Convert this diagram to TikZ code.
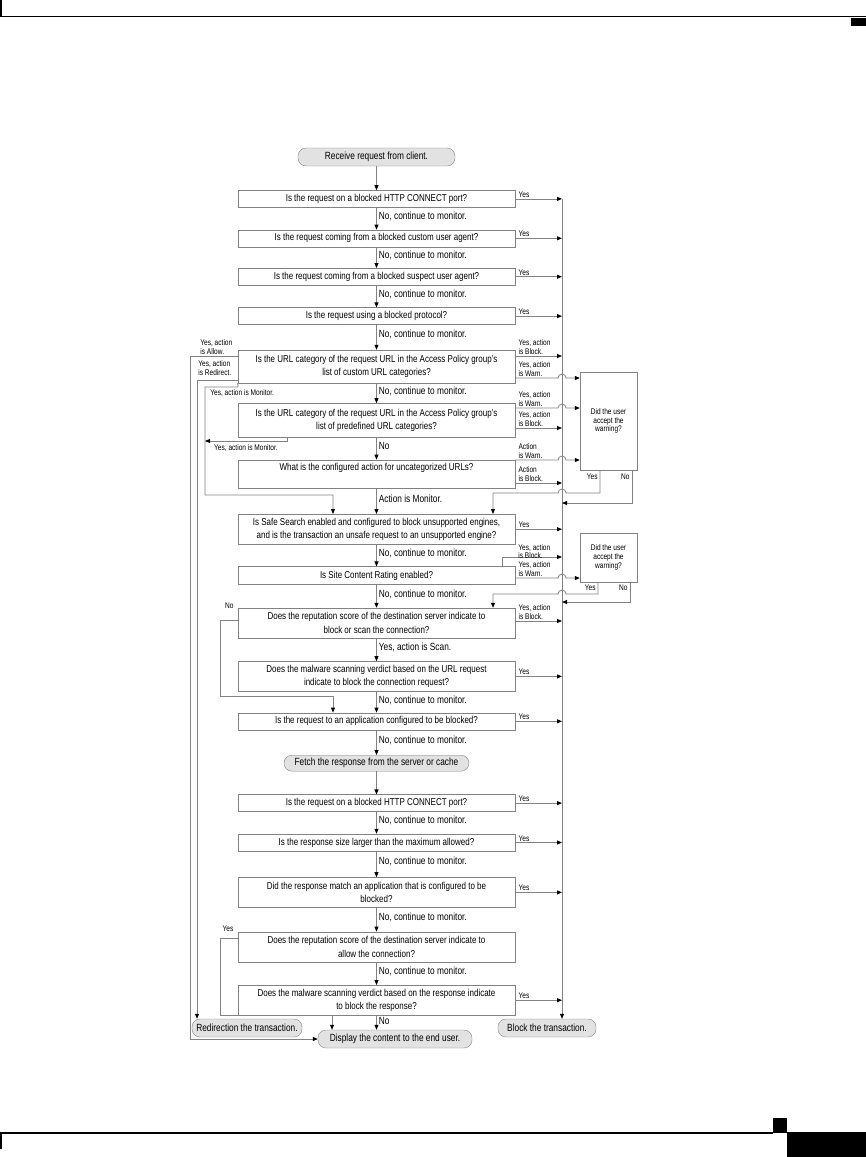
\documentclass[tikz,border=0pt]{standalone}
\usepackage{fontspec}
\setmainfont{Liberation Sans}[FakeStretch=0.8]
\usetikzlibrary{positioning,arrows.meta}
\definecolor{flgrey}{RGB}{130,130,130}
\definecolor{flfill}{RGB}{226,226,226}
\newcommand{\qfont}{\fontsize{10}{13.5}\selectfont}
\newcommand{\tfont}{\fontsize{10.4}{11}\selectfont}
\newcommand{\lfont}{\fontsize{10.4}{11}\selectfont}
\newcommand{\sfont}{\fontsize{8.2}{8.8}\selectfont}
\tikzset{
  qbox/.style={draw=flgrey, fill=white, minimum width=277pt, minimum height=17pt,
               inner sep=0pt, align=center, font=\qfont},
  qtwo/.style={qbox, minimum height=30pt},
  term/.style={draw=flgrey, fill=flfill, rounded corners=8pt, minimum height=18pt,
               inner sep=0pt, font=\tfont},
  warnbox/.style={draw=flgrey, fill=white, align=center, inner sep=0pt, font=\sfont},
  link/.style={draw=flgrey, line width=0.8pt, -{Triangle[length=5pt,width=4pt,color=black]}},
  nolbl/.style={right=2pt, font=\lfont, inner sep=0pt, pos=0.4},
  yes/.style={anchor=south west, font=\sfont, inner sep=0pt, xshift=3pt, yshift=1pt},
  side/.style={yes, align=left},
}
\begin{document}
\begin{tikzpicture}[x=1pt, y=-1pt]
\useasboundingbox (0,0) rectangle (866,1157);
% page rules
\draw[line width=1.2pt] (0,16.5) -- (866,16.5);
\draw[line width=1.2pt] (1,0) -- (1,16.5);
\fill (851,18) rectangle (866,26);
\draw[line width=1.2pt] (0,1133) -- (773,1133);
\draw[line width=1.2pt] (1,1133) -- (1,1149);
\fill (773,1118) rectangle (787,1133);
\fill (787,1132) rectangle (866,1157);

% request checks
\node[term, minimum width=157pt] (start) at (376.5,157) {Receive request from client.};
\node[qbox, below=24pt of start] (b1) {Is the request on a blocked HTTP CONNECT port?};
\node[qbox, below=22pt of b1] (b2) {Is the request coming from a blocked custom user agent?};
\node[qbox, below=21pt of b2] (b3) {Is the request coming from a blocked suspect user agent?};
\node[qbox, below=22pt of b3] (b4) {Is the request using a blocked protocol?};
\node[qtwo, minimum height=33pt, below=25pt of b4] (b5) {Is the URL category of the request URL in the Access Policy group's\\list of custom URL categories?};
\node[qtwo, minimum height=34pt, below=20pt of b5] (b6) {Is the URL category of the request URL in the Access Policy group's\\list of predefined URL categories?};
\node[qbox, minimum height=28pt, below=22pt of b6] (b7) {What is the configured action for uncategorized URLs?\\\mbox{}};
\node[qtwo, below=26pt of b7] (b8) {Is Safe Search enabled and configured to block unsupported engines,\\and is the transaction an unsafe request to an unsupported engine?};
\node[qbox, minimum height=18pt, below=22pt of b8] (b9) {Is Site Content Rating enabled?};
\node[qtwo, below=23pt of b9] (b10) {Does the reputation score of the destination server indicate to\\block or scan the connection?};
\node[qtwo, below=23pt of b10] (b11) {Does the malware scanning verdict based on the URL request\\indicate to block the connection request?};
\node[qbox, below=21pt of b11] (b12) {Is the request to an application configured to be blocked?};
% response checks
\node[term, minimum width=185pt, minimum height=16pt, below=25pt of b12] (fetch) {Fetch the response from the server or cache};
\node[qbox, below=23pt of fetch] (b13) {Is the request on a blocked HTTP CONNECT port?};
\node[qbox, below=22pt of b13] (b14) {Is the response size larger than the maximum allowed?};
\node[qtwo, below=26pt of b14] (b15) {Did the response match an application that is configured to be\\blocked?};
\node[qtwo, below=24pt of b15] (b16) {Does the reputation score of the destination server indicate to\\allow the connection?};
\node[qtwo, below=23pt of b16] (b17) {Does the malware scanning verdict based on the response indicate\\to block the response?};
% outcomes
\node[term, minimum width=110pt] (redir) at (247,1028) {Redirection the transaction.};
\node[term, minimum width=154pt] (disp) at (395,1039) {Display the content to the end user.};
\node[term, minimum width=98pt] (blk) at (547,1028) {Block the transaction.};
% warning prompts
\node[warnbox, minimum width=57pt, minimum height=98pt] (w1) at (608.5,421) {Did the user\\accept the\\warning?};
\node[warnbox, minimum width=57pt, minimum height=49pt] (w2) at (608.5,557.5) {Did the user\\accept the\\warning?};

% main column
\draw[link] (start) -- (b1);
\draw[link] (b1) -- node[nolbl]{No, continue to monitor.} (b2);
\draw[link] (b2) -- node[nolbl]{No, continue to monitor.} (b3);
\draw[link] (b3) -- node[nolbl]{No, continue to monitor.} (b4);
\draw[link] (b4) -- node[nolbl]{No, continue to monitor.} (b5);
\draw[link] (b5) -- node[nolbl]{No, continue to monitor.} (b6);
\draw[link] (b6) -- node[nolbl]{No} (b7);
\draw[link] (b7) -- node[nolbl]{Action is Monitor.} (b8);
\draw[link] (b8) -- node[nolbl]{No, continue to monitor.} (b9);
\draw[link] (b9) -- node[nolbl]{No, continue to monitor.} (b10);
\draw[link] (b10) -- node[nolbl]{Yes, action is Scan.} (b11);
\draw[link] (b11) -- node[nolbl]{No, continue to monitor.} (b12);
\draw[link] (b12) -- node[nolbl]{No, continue to monitor.} (fetch);
\draw[link] (fetch) -- (b13);
\draw[link] (b13) -- node[nolbl]{No, continue to monitor.} (b14);
\draw[link] (b14) -- node[nolbl]{No, continue to monitor.} (b15);
\draw[link] (b15) -- node[nolbl]{No, continue to monitor.} (b16);
\draw[link] (b16) -- node[nolbl]{No, continue to monitor.} (b17);
\draw[link] (b17) -- node[nolbl]{No} (b17.south |- disp.north);

% block bus on the right
\coordinate (rtop) at (562,199);
\draw[link] (rtop) -- (rtop |- blk.north);
\draw[link] (b1.east) node[yes]{Yes} -- (b1.east -| rtop);
\draw[link] (b2.east) node[yes]{Yes} -- (b2.east -| rtop);
\draw[link] (b3.east) node[yes]{Yes} -- (b3.east -| rtop);
\draw[link] (b4.east) node[yes]{Yes} -- (b4.east -| rtop);
\draw[link] (b5.east |- 0,356) node[side]{Yes, action\\is Block.} -- (rtop |- 0,356);
\draw[link] (b6.east |- 0,428) node[side]{Yes, action\\is Block.} -- (rtop |- 0,428);
\draw[link] (b7.east |- 0,483) node[side]{Action\\is Block.} -- (rtop |- 0,483);
\draw[link] (b8.east) node[yes]{Yes} -- (b8.east -| rtop);
\draw[link] (502,0 |- b9.north) node[side, xshift=13pt, yshift=6pt]{Yes, action\\is Block.} -- (502,557) -- (rtop |- 0,557);
\draw[link] (b10.east |- 0,621) node[side]{Yes, action\\is Block.} -- (rtop |- 0,621);
\draw[link] (b11.east) node[yes]{Yes} -- (b11.east -| rtop);
\draw[link] (b12.east) node[yes]{Yes} -- (b12.east -| rtop);
\draw[link] (b13.east) node[yes]{Yes} -- (b13.east -| rtop);
\draw[link] (b14.east) node[yes]{Yes} -- (b14.east -| rtop);
\draw[link] (b15.east) node[yes]{Yes} -- (b15.east -| rtop);
\draw[link] (b17.east) node[yes]{Yes} -- (b17.east -| rtop);

% warn branches hop over the bus
\draw[link] (b5.east |- 0,378) node[side]{Yes, action\\is Warn.} -- (558,378)
  arc[start angle=180, end angle=0, radius=4pt] -- (w1.west |- 0,378);
\draw[link] (b6.east |- 0,408) node[side]{Yes, action\\is Warn.} -- (558,408)
  arc[start angle=180, end angle=0, radius=4pt] -- (w1.west |- 0,408);
\draw[link] (b7.east |- 0,460) node[side]{Action\\is Warn.} -- (558,460)
  arc[start angle=180, end angle=0, radius=4pt] -- (w1.west |- 0,460);
\draw[link] (b9.east |- 0,578) node[side]{Yes, action\\is Warn.} -- (558,578)
  arc[start angle=180, end angle=0, radius=4pt] -- (w2.west |- 0,578);
% answers to the warning
\draw[link] (600,0 |- w1.south) node[anchor=north east, font=\sfont, inner sep=0pt, xshift=-2pt, yshift=-3pt]{Yes}
  -- (600,493) -- (566,493) arc[start angle=0, end angle=180, radius=4pt] -- (493,493) -- (493,0 |- b8.north);
\draw[link] (632,0 |- w1.south) node[anchor=north east, font=\sfont, inner sep=0pt, xshift=-2pt, yshift=-3pt]{No}
  -- (632,503) -- (rtop |- 0,503);
\draw[link] (598,0 |- w2.south) node[anchor=north east, font=\sfont, inner sep=0pt, xshift=-2pt, yshift=-2pt]{Yes}
  -- (598,594) -- (566,594) arc[start angle=0, end angle=180, radius=4pt] -- (493,594) -- (493,0 |- b10.north);
\draw[link] (630,0 |- w2.south) node[anchor=north east, font=\sfont, inner sep=0pt, xshift=-2pt, yshift=-2pt]{No}
  -- (630,602) -- (rtop |- 0,602);

% left side: allow, redirect, monitor
\draw[link] (b5.west |- 0,356) -- (190,356) node[side, xshift=7pt]{Yes, action\\is Allow.}
  -- (190,0 |- disp.west) -- (disp.west);
\draw[link] (b5.west |- 0,380) -- (197,380) node[side, xshift=-2pt, yshift=3pt]{Yes, action\\is Redirect.}
  -- (197,0 |- redir.north);
\draw[link] (b5.south west) -- (238,387) -- (205,387)
  node[anchor=north west, font=\sfont, inner sep=0pt, xshift=5pt, yshift=-2pt]{Yes, action is Monitor.}
  -- (205,495) -- (333,495) -- (333,0 |- b8.north);
\draw[link] (287,0 |- b6.south) -- (287,441) -- node[below=3pt, font=\sfont, inner sep=0pt]{Yes, action is Monitor.} (205,441);
\draw[link] (b10.west |- 0,620) node[anchor=east, font=\sfont, inner sep=0pt, xshift=-4pt, yshift=14pt]{No}
  -- (220,620) -- (220,696) -- (333,696) -- (333,0 |- b12.north);
\draw[link] (b16.west |- 0,938) node[anchor=east, font=\sfont, inner sep=0pt, xshift=-4pt, yshift=9pt]{Yes}
  -- (220,938) -- (220,1015) -- (332,1015) -- (332,0 |- disp.north);
\end{tikzpicture}
\end{document}
